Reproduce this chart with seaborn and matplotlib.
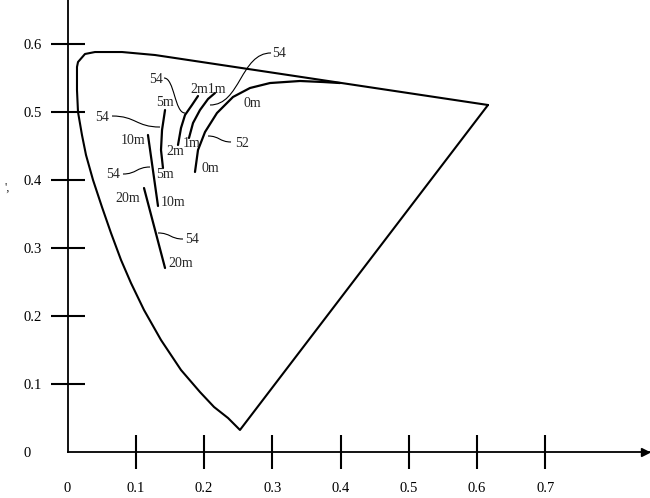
import matplotlib
matplotlib.use("Agg")
import matplotlib.pyplot as plt
import seaborn as sns
from matplotlib.path import Path
from matplotlib.patches import PathPatch

# gamut outline (spectral locus + purple line) in u', v'
locus_u = [0.6161, 0.1575, 0.1282, 0.0799, 0.0403, 0.0256, 0.0154, 0.0139, 0.0139,
           0.0154, 0.0212, 0.0271, 0.0374, 0.0505, 0.0637, 0.0784, 0.0930, 0.1121,
           0.1370, 0.1663, 0.1941, 0.2147, 0.2352, 0.2527, 0.6161]
locus_v = [0.5103, 0.5794, 0.5838, 0.5882, 0.5882, 0.5853, 0.5735, 0.5662, 0.5324,
           0.5000, 0.4662, 0.4368, 0.4000, 0.3603, 0.3221, 0.2824, 0.2485, 0.2088,
           0.1647, 0.1206, 0.0882, 0.0662, 0.0500, 0.0324, 0.5103]

# curve 52 (0m)
curve0_u = [0.1868, 0.1912, 0.2015, 0.2190, 0.2425, 0.2674, 0.2967, 0.3407, 0.3744, 0.3993]
curve0_v = [0.4118, 0.4441, 0.4706, 0.4985, 0.5221, 0.5353, 0.5426, 0.5456, 0.5441, 0.5426]

# segments 54
seg1_u = [0.1780, 0.1839, 0.1941, 0.2059, 0.2161]
seg1_v = [0.4618, 0.4838, 0.5029, 0.5191, 0.5279]
seg2_u = [0.1619, 0.1663, 0.1722, 0.1824, 0.1912]
seg2_v = [0.4515, 0.4765, 0.4956, 0.5103, 0.5235]
seg5_u = [0.1429, 0.1385, 0.1370, 0.1399]
seg5_v = [0.5029, 0.4735, 0.4441, 0.4176]
seg10_u = [0.1179, 0.1326]
seg10_v = [0.4662, 0.3618]
seg20_u = [0.1121, 0.1429]
seg20_v = [0.3882, 0.2706]

# labels
label_text = ["54", "2m1m", "0m", "54", "5m", "54", "10m", "1m", "52", "2m", "0m",
              "54", "5m", "20m", "10m", "54", "20m"]
label_u = [0.3099, 0.2059, 0.2703, 0.1297, 0.1429, 0.0505, 0.0960, 0.1824, 0.2557,
           0.1575, 0.2088, 0.0667, 0.1429, 0.0886, 0.1546, 0.1824, 0.1663]
label_v = [0.5853, 0.5338, 0.5132, 0.5485, 0.5147, 0.4926, 0.4588, 0.4544, 0.4544,
           0.4412, 0.4162, 0.4074, 0.4074, 0.3735, 0.3662, 0.3132, 0.2779]

# leader lines: start (at label) -> end (at curve)
lead_u0 = [0.2982, 0.1414, 0.0652, 0.2396, 0.0813, 0.1692]
lead_v0 = [0.5868, 0.5500, 0.4941, 0.4559, 0.4088, 0.3132]
lead_u1 = [0.2088, 0.1722, 0.1355, 0.2059, 0.1209, 0.1326]
lead_v1 = [0.5103, 0.4985, 0.4779, 0.4647, 0.4191, 0.3221]

xticks = [0, 0.1, 0.2, 0.3, 0.4, 0.5, 0.6, 0.7]
yticks = [0, 0.1, 0.2, 0.3, 0.4, 0.5, 0.6]

sns.set_style("white")
plt.rcParams["font.family"] = ["Liberation Serif", "DejaVu Serif"]

fig = plt.figure(figsize=(6.5, 4.98), dpi=100)
ax = fig.add_axes([67.5 / 650, 46 / 498, 582.5 / 650, 452 / 498])
ax.set_xlim(0, 582.5 / 682.5)
ax.set_ylim(0, 452 / 680)

kw = dict(sort=False, estimator=None, color="black", ax=ax, legend=False)
sns.lineplot(x=locus_u, y=locus_v, lw=1.5, **kw)
sns.lineplot(x=curve0_u, y=curve0_v, lw=1.6, **kw)
for su, sv in [(seg1_u, seg1_v), (seg2_u, seg2_v), (seg5_u, seg5_v),
               (seg10_u, seg10_v), (seg20_u, seg20_v)]:
    sns.lineplot(x=su, y=sv, lw=1.6, **kw)

for t, u, v in zip(label_text, label_u, label_v):
    ax.text(u, v, t, ha="center", va="center", fontsize=10)

for u0, v0, u1, v1 in zip(lead_u0, lead_v0, lead_u1, lead_v1):
    mx = (u0 + u1) / 2
    path = Path([(u0, v0), (mx, v0), (mx, v1), (u1, v1)],
                [Path.MOVETO, Path.CURVE4, Path.CURVE4, Path.CURVE4])
    ax.add_patch(PathPatch(path, fill=False, lw=0.8, ec="black"))

# axes
for s in ["top", "right"]:
    ax.spines[s].set_visible(False)
for s in ["left", "bottom"]:
    ax.spines[s].set_color("black")
    ax.spines[s].set_linewidth(1.3)
ax.plot(0.9914, 0, ">", color="black", ms=6, transform=ax.get_yaxis_transform(), clip_on=False)

ax.set_xticks(xticks)
ax.set_xticklabels(["0", "0.1", "0.2", "0.3", "0.4", "0.5", "0.6", "0.7"])
ax.set_yticks(yticks)
ax.set_yticklabels(["0", "0.1", "0.2", "0.3", "0.4", "0.5", "0.6"])
ax.tick_params(axis="both", bottom=True, left=True, direction="inout", length=24.5,
               width=1.5, color="black", labelsize=10.5, labelcolor="black")
ax.tick_params(axis="x", pad=9.5)
ax.tick_params(axis="y", pad=19.5)
plt.setp(ax.get_yticklabels(), ha="left")
ax.xaxis.get_major_ticks()[0].tick1line.set_visible(False)
ax.yaxis.get_major_ticks()[0].tick1line.set_visible(False)

fig.text(4 / 650, 1 - 188 / 498, "',", fontsize=9, ha="left", va="center")

fig.savefig("out.png", dpi=100, facecolor="white")
